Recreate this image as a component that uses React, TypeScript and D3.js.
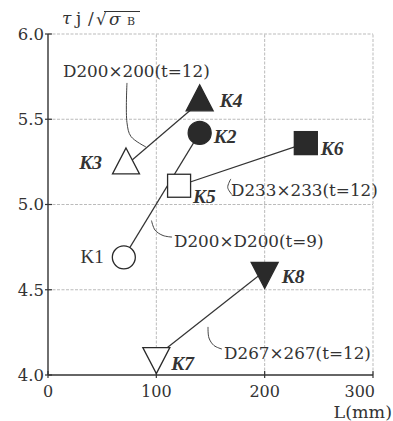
import React from "react";
import * as d3 from "d3";

// specimens (K1..K8): bar length L (mm) and joint strength ratio τj/√σB
const ids = ["K1", "K2", "K3", "K4", "K5", "K6", "K7", "K8"];
const lengths = [70, 140, 72, 140, 121, 238, 100, 200];
const ratios = [4.69, 5.42, 5.23, 5.6, 5.11, 5.36, 4.11, 4.61];
const shapes = ["circle", "circle", "tri", "tri", "square", "square", "triDown", "triDown"];
const filled = [false, true, false, true, false, true, false, true];

// connected pairs and the section that each pair belongs to
const pairs = [["K3", "K4"], ["K1", "K2"], ["K5", "K6"], ["K7", "K8"]];
const sections = ["D200×200(t=12)", "D200×D200(t=9)", "D233×233(t=12)", "D267×267(t=12)"];

const xTicks = [0, 100, 200, 300];
const yTicks = [4.0, 4.5, 5.0, 5.5, 6.0];

const W = 393;
const H = 421;
const x = d3.scaleLinear().domain([0, 300]).range([48, 373]);
const y = d3.scaleLinear().domain([4, 6]).range([375, 34]);

// label offsets (px) beside each marker
const labelPos: Record<string, [number, number, string]> = {
  K1: [-20, 6, "end"],
  K2: [14, 10, "start"],
  K3: [-24, 4, "end"],
  K4: [20, 5, "start"],
  K5: [14, 17, "start"],
  K6: [15, 12, "start"],
  K7: [15, 14, "start"],
  K8: [17, 12, "start"],
};

// annotation text anchors and leader curves, in data units
const notes = [
  { text: sections[0], at: [13.8, 5.748], leader: [[72.9, 5.713], [72.9, 5.48], [76.6, 5.399], [90.5, 5.337]] },
  { text: sections[1], at: [116.3, 4.751], leader: [[95.5, 4.906], [98.8, 4.85], [106.2, 4.818], [114.5, 4.809]] },
  { text: sections[2], at: [168.9, 5.05], leader: [[168.8, 5.15], [165.9, 5.1], [169.8, 5.058]] },
  { text: sections[3], at: [162.5, 4.094], leader: [[147.7, 4.282], [148.6, 4.217], [153.2, 4.173], [160.6, 4.152]] },
];

const ink = "#2a2a2a";
const serif = "'DejaVu Serif', serif";
const times = "'Liberation Serif', serif";

const marker = (i: number) => {
  const cx = x(lengths[i]);
  const cy = y(ratios[i]);
  const fill = filled[i] ? ink : "#fff";
  const common = { fill, stroke: ink, strokeWidth: 1.3 };
  const s = shapes[i];
  if (s === "circle") return <circle key={i} cx={cx} cy={cy} r={11.5} {...common} />;
  if (s === "square") return <rect key={i} x={cx - 11.5} y={cy - 11.5} width={23} height={23} {...common} />;
  const h = 26;
  const w = 13.5;
  const pts =
    s === "tri"
      ? [[cx, cy - (2 * h) / 3], [cx + w, cy + h / 3], [cx - w, cy + h / 3]]
      : [[cx, cy + (2 * h) / 3], [cx + w, cy - h / 3], [cx - w, cy - h / 3]];
  return <polygon key={i} points={pts.map((p) => p.join(",")).join(" ")} {...common} />;
};

export default function App() {
  const leaderLine = d3
    .line<number[]>()
    .x((d) => x(d[0]))
    .y((d) => y(d[1]))
    .curve(d3.curveCatmullRom);

  const idx = (k: string) => ids.indexOf(k);

  return (
    <svg width={W} height={H} style={{ position: "absolute", left: 0, top: 0, background: "#fff" }}>
      {/* grid + frame */}
      {xTicks.slice(1).map((t) => (
        <line key={"gx" + t} x1={x(t)} x2={x(t)} y1={y(4)} y2={y(6)} stroke="#aaa" strokeWidth={0.8} strokeDasharray="3,1.5" />
      ))}
      {yTicks.slice(1).map((t) => (
        <line key={"gy" + t} x1={x(0)} x2={x(300)} y1={y(t)} y2={y(t)} stroke="#aaa" strokeWidth={0.8} strokeDasharray="3,1.5" />
      ))}

      {/* axes */}
      <line x1={x(0)} x2={x(0)} y1={y(4)} y2={y(6)} stroke="#333" strokeWidth={1.4} />
      <line x1={x(0)} x2={x(300)} y1={y(4)} y2={y(4)} stroke="#333" strokeWidth={1.6} />
      {yTicks.map((t) => (
        <g key={"yt" + t}>
          <line x1={x(0) - 3} x2={x(0) + 4} y1={y(t)} y2={y(t)} stroke="#333" strokeWidth={1.2} />
          <text x={x(0) - 4} y={y(t)} dy="0.36em" textAnchor="end" fontFamily={serif} fontSize={16.5} fill="#333">
            {t.toFixed(1)}
          </text>
        </g>
      ))}
      {xTicks.map((t, i) => (
        <g key={"xt" + t}>
          <line x1={x(t)} x2={x(t)} y1={y(4) - 4} y2={y(4) + 3} stroke="#333" strokeWidth={1.2} />
          <text
            x={i === xTicks.length - 1 ? x(t) + 2 : x(t)}
            y={397}
            textAnchor={i === xTicks.length - 1 ? "end" : "middle"}
            fontFamily={serif}
            fontSize={16}
            fill="#333"
          >
            {t}
          </text>
        </g>
      ))}
      <text x={392} y={418} textAnchor="end" fontFamily={serif} fontSize={17.5} fill="#333">
        L(mm)
      </text>

      {/* y axis title: τj /√σB */}
      <g fill="#333" fontFamily={serif}>
        <text x={62} y={24} fontSize={17} fontStyle="italic">τ</text>
        <text x={76} y={24} fontSize={17}>j</text>
        <text x={88} y={24} fontSize={17}>/</text>
        <text x={96} y={25} fontSize={17}>√</text>
        <text x={109} y={25} fontSize={17} fontStyle="italic">σ</text>
        <text x={127} y={25} fontSize={11}>B</text>
        <line x1={104} x2={140} y1={11.5} y2={11.5} stroke="#333" strokeWidth={1.2} />
      </g>

      {/* connecting lines */}
      {pairs.map(([a, b]) => (
        <line
          key={a + b}
          x1={x(lengths[idx(a)])}
          y1={y(ratios[idx(a)])}
          x2={x(lengths[idx(b)])}
          y2={y(ratios[idx(b)])}
          stroke="#333"
          strokeWidth={1.2}
        />
      ))}

      {/* leaders + section notes */}
      {notes.map((n) => (
        <g key={n.text}>
          <path d={leaderLine(n.leader) || ""} fill="none" stroke="#444" strokeWidth={1} />
          <text x={x(n.at[0])} y={y(n.at[1])} fontFamily={serif} fontSize={16.8} fill="#333">
            {n.text}
          </text>
        </g>
      ))}

      {/* markers */}
      {ids.map((_, i) => marker(i))}

      {/* specimen labels */}
      {ids.map((k, i) => {
        const [dx, dy, anchor] = labelPos[k];
        const upright = k === "K1";
        return (
          <text
            key={"l" + k}
            x={x(lengths[i]) + dx}
            y={y(ratios[i]) + dy}
            textAnchor={anchor as any}
            fontFamily={times}
            fontSize={upright ? 19 : 19.5}
            fontStyle={upright ? "normal" : "italic"}
            fontWeight={upright ? "normal" : "bold"}
            fill="#333"
          >
            {k}
          </text>
        );
      })}
    </svg>
  );
}
